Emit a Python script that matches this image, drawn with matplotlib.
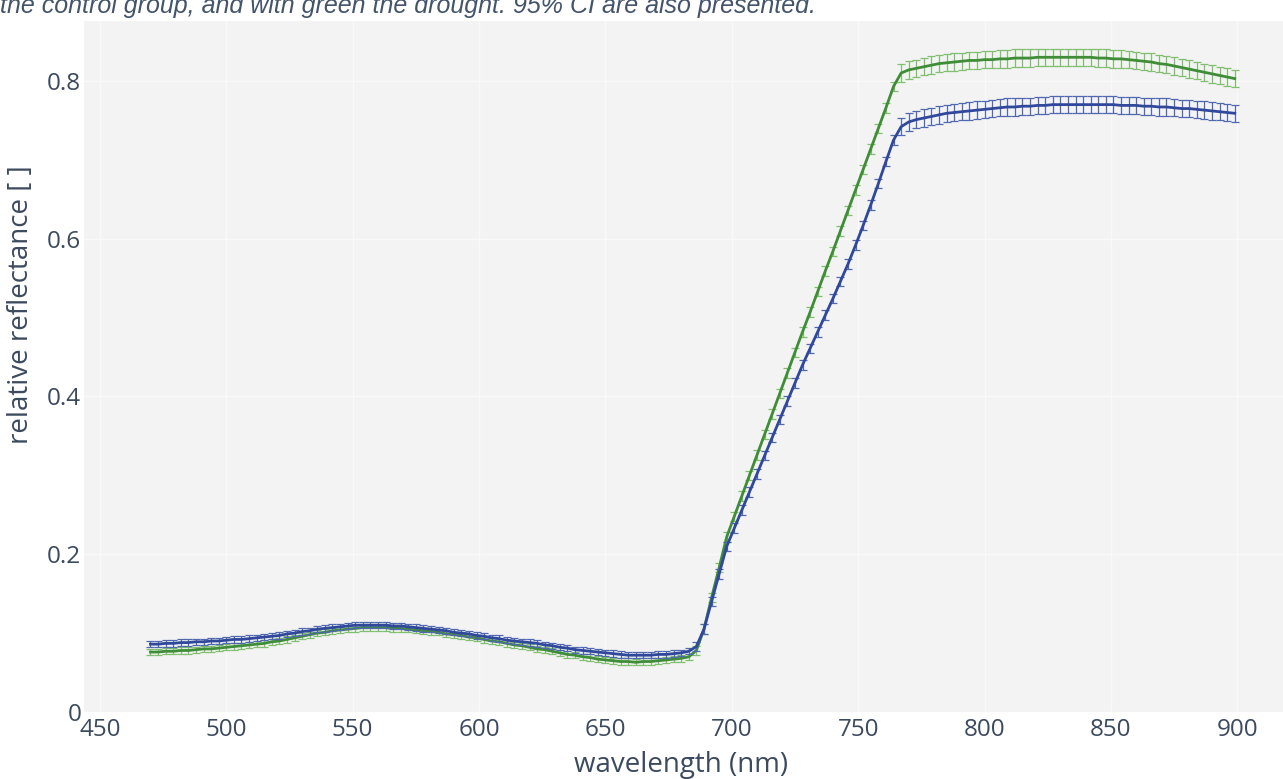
import numpy as np
import matplotlib
matplotlib.use("Agg")
import matplotlib.pyplot as plt

# ---- data ----
wavelength = np.arange(470, 900, 3)  # band centres (nm)

control_low = [0.086, 0.086, 0.087, 0.087, 0.088, 0.088, 0.089, 0.089, 0.090, 0.090,
               0.091, 0.092, 0.092, 0.093, 0.094, 0.095, 0.096, 0.097, 0.099, 0.100,
               0.102, 0.103, 0.105, 0.106, 0.107, 0.108, 0.109, 0.110, 0.110, 0.110,
               0.110, 0.110, 0.109, 0.109, 0.108, 0.107, 0.106, 0.105, 0.104, 0.103,
               0.101, 0.100, 0.099, 0.097, 0.096, 0.094, 0.093, 0.091, 0.090, 0.089,
               0.088, 0.087, 0.085, 0.084, 0.082, 0.081, 0.079, 0.078, 0.077, 0.076,
               0.075, 0.074, 0.073, 0.072, 0.072, 0.072, 0.072, 0.073, 0.073, 0.074,
               0.075, 0.077]
control_rise = [0.083, 0.105, 0.140, 0.175, 0.210, 0.233, 0.256, 0.279, 0.302, 0.325,
                0.348, 0.371, 0.394, 0.417, 0.440, 0.461, 0.482, 0.503, 0.524, 0.546,
                0.568, 0.592, 0.617, 0.643, 0.670, 0.698, 0.725]
control_nir = [0.742, 0.748, 0.751, 0.753, 0.755, 0.757, 0.759, 0.760, 0.761,
               0.762, 0.763, 0.764, 0.765, 0.766, 0.767, 0.767, 0.768, 0.768, 0.769,
               0.769, 0.770, 0.770, 0.770, 0.770, 0.770, 0.770, 0.770, 0.770, 0.770,
               0.769, 0.769, 0.769, 0.768, 0.768, 0.767, 0.767, 0.766, 0.765, 0.765,
               0.764, 0.763, 0.762, 0.761, 0.760, 0.759]

drought_low = [0.076, 0.076, 0.077, 0.077, 0.078, 0.078, 0.079, 0.080, 0.080, 0.081,
               0.082, 0.083, 0.084, 0.085, 0.086, 0.087, 0.089, 0.090, 0.092, 0.094,
               0.096, 0.098, 0.100, 0.101, 0.103, 0.104, 0.105, 0.106, 0.107, 0.107,
               0.107, 0.107, 0.106, 0.106, 0.105, 0.104, 0.103, 0.102, 0.101, 0.099,
               0.098, 0.097, 0.095, 0.094, 0.092, 0.090, 0.089, 0.087, 0.085, 0.084,
               0.082, 0.080, 0.079, 0.077, 0.075, 0.073, 0.072, 0.070, 0.069, 0.067,
               0.066, 0.065, 0.064, 0.064, 0.063, 0.064, 0.064, 0.065, 0.066, 0.067,
               0.068, 0.070]
drought_rise = [0.078, 0.105, 0.145, 0.183, 0.222, 0.248, 0.274, 0.300, 0.326, 0.352,
                0.378, 0.404, 0.430, 0.456, 0.482, 0.507, 0.533, 0.559, 0.584, 0.610,
                0.636, 0.662, 0.688, 0.714, 0.740, 0.766, 0.793]
drought_nir = [0.810, 0.814, 0.816, 0.818, 0.820, 0.822, 0.823, 0.824, 0.825,
               0.826, 0.826, 0.827, 0.827, 0.828, 0.828, 0.829, 0.829, 0.829, 0.830,
               0.830, 0.830, 0.830, 0.830, 0.830, 0.830, 0.830, 0.829, 0.829, 0.828,
               0.828, 0.827, 0.826, 0.825, 0.824, 0.822, 0.821, 0.819, 0.817, 0.815,
               0.813, 0.811, 0.809, 0.807, 0.805, 0.803]

# 95% CI half-widths per spectral region (low VIS, red edge, NIR plateau)
control_ci = [0.004] * 72 + [0.006] * 27 + [0.011] * 45
drought_ci = [0.004] * 72 + [0.006] * 27 + [0.011] * 45

x_ticks = [450, 500, 550, 600, 650, 700, 750, 800, 850, 900]
y_ticks = [0, 0.2, 0.4, 0.6, 0.8]
y_tick_labels = ["0", "0.2", "0.4", "0.6", "0.8"]

control = np.array(control_low + control_rise + control_nir)
drought = np.array(drought_low + drought_rise + drought_nir)

# ---- figure ----
W, H = 1283, 779
fig = plt.figure(figsize=(W / 100, H / 100), dpi=100)
ax = fig.add_axes([84 / W, 1 - 712 / H, 1 - 84 / W, (712 - 21) / H])
ax.set_facecolor("#f3f3f3")
for s in ax.spines.values():
    s.set_visible(False)

tick_color = "#3c4a5e"
font = "Open Sans"

ax.errorbar(wavelength, drought, yerr=drought_ci, color="#3f8d37", lw=2.0,
            ecolor="#7fbf6f", elinewidth=0.9, capsize=3, capthick=0.9, zorder=3)
ax.errorbar(wavelength, control, yerr=control_ci, color="#30489c", lw=2.0,
            ecolor="#5068b0", elinewidth=0.9, capsize=3, capthick=0.9, zorder=4)

ax.set_xlim(443.7, 918.1)
ax.set_ylim(0, 0.876)
ax.set_xticks(x_ticks)
ax.set_yticks(y_ticks)
ax.set_yticklabels(y_tick_labels)
ax.grid(True, color="#f9f9f9", lw=1.0, zorder=0)
ax.set_axisbelow(True)
ax.tick_params(length=0, labelsize=17.5, labelcolor=tick_color)
ax.tick_params(axis="x", pad=4)
ax.tick_params(axis="y", pad=2)
for lab in ax.get_xticklabels() + ax.get_yticklabels():
    lab.set_fontfamily(font)

ax.set_xlabel("wavelength (nm)", fontsize=20, color=tick_color, family=font)
ax.xaxis.set_label_coords(0.498, -0.056)
ax.xaxis.label.set_va("top")
ax.set_ylabel("relative reflectance [ ]", fontsize=20, color=tick_color, family=font)
ax.yaxis.set_label_coords(-0.041, 0.59)

fig.text(0.0, 1 - 13 / H,
         "the control group, and with green the drought. 95% CI are also presented.",
         fontsize=18, style="italic", color="#44546a", family="Liberation Sans",
         ha="left", va="baseline")

fig.savefig("out.png", dpi=100, facecolor="white")
